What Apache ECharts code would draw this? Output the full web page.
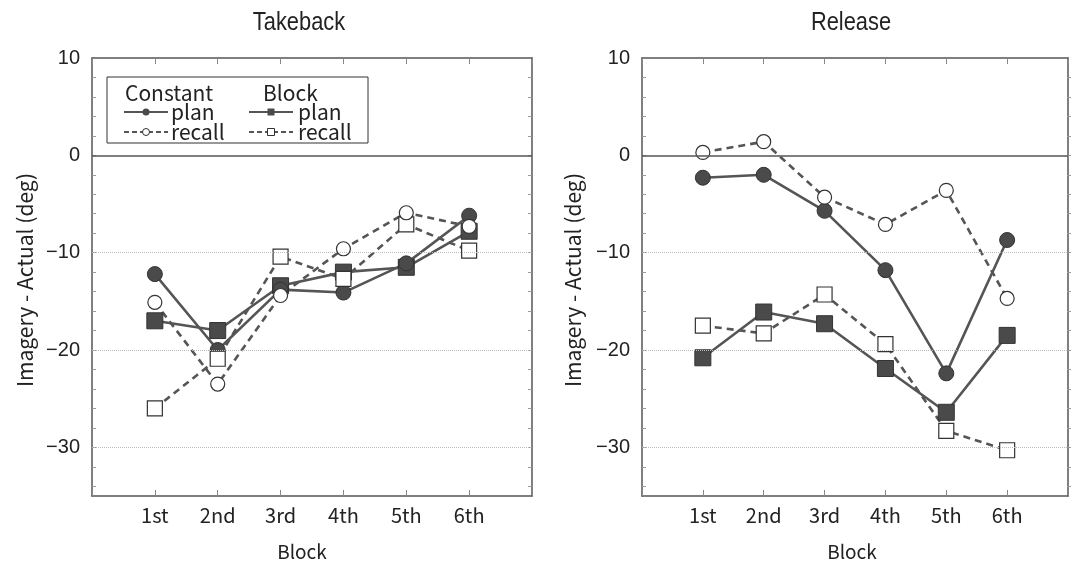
<!DOCTYPE html>
<html>
<head>
<meta charset="utf-8">
<script src="https://cdn.jsdelivr.net/npm/echarts@6/dist/echarts.min.js"></script>
<style>
html, body { margin: 0; padding: 0; background: #fff; }
#chart { width: 1071px; height: 566px; }
</style>
</head>
<body>
<div id="chart"></div>
<script>
// categories
var blockLabels = ['1st', '2nd', '3rd', '4th', '5th', '6th'];
// Takeback panel
var takebackConstantPlan   = [-12.2, -20.0, -13.8, -14.1, -11.1, -6.2];
var takebackConstantRecall = [-15.1, -23.5, -14.4, -9.6, -5.9, -7.3];
var takebackBlockPlan      = [-17.0, -18.0, -13.4, -12.0, -11.5, -7.8];
var takebackBlockRecall    = [-26.0, -20.9, -10.4, -12.7, -7.1, -9.8];
// Release panel
var releaseConstantPlan    = [-2.3, -2.0, -5.7, -11.8, -22.4, -8.7];
var releaseConstantRecall  = [0.3, 1.4, -4.3, -7.1, -3.6, -14.7];
var releaseBlockPlan       = [-20.8, -16.1, -17.3, -21.9, -26.4, -18.5];
var releaseBlockRecall     = [-17.5, -18.3, -14.3, -19.4, -28.3, -30.3];
// y reference lines
var gridValues = [-10, -20, -30];
var zeroValue = 0;

var NARROW = "'Liberation Sans Narrow', 'Arial Narrow', 'Liberation Sans', sans-serif";
var GOTHIC = "'Noto Sans CJK JP', 'Noto Sans', sans-serif";
var INK = '#555';

var myChart = echarts.init(document.getElementById('chart'));

function mainGrid(left) { return {left: left, top: 58, width: 440, height: 438}; }
function minorGrid(left) { return {left: left, top: 58 + 2 * 438 / 45, width: 440, height: 438 * 42 / 45}; }

function xBottom(gi) {
	return {
		type: 'value', gridIndex: gi, position: 'bottom', min: 0, max: 7, interval: 1,
		axisLine: {show: true, onZero: false, lineStyle: {color: INK, width: 1.5}},
		axisTick: {show: true, inside: true, length: 6, lineStyle: {color: '#888'}},
		splitLine: {show: false},
		axisLabel: {
			margin: 9, color: '#222', fontSize: 20, fontFamily: GOTHIC,
			formatter: function (v) { return blockLabels[v - 1] || ''; }
		}
	};
}
function xTop(gi) {
	return {
		type: 'value', gridIndex: gi, position: 'top', min: 0, max: 7, interval: 1,
		axisLine: {show: true, onZero: false, lineStyle: {color: INK, width: 1.5}},
		axisTick: {show: true, inside: true, length: 6, lineStyle: {color: '#888'}},
		splitLine: {show: false}, axisLabel: {show: false}
	};
}
function xHidden(gi) { return {type: 'value', gridIndex: gi, min: 0, max: 7, show: false}; }

function yMain(gi) {
	return {
		type: 'value', gridIndex: gi, position: 'left', min: -35, max: 10, interval: 5,
		axisLine: {show: true, onZero: false, lineStyle: {color: INK, width: 1.5}},
		axisTick: {show: false}, splitLine: {show: false},
		axisLabel: {
			margin: 12, color: '#222', fontSize: 20, fontFamily: NARROW,
			formatter: function (v) {
				if (v % 10 !== 0) return '';
				return v < 0 ? '\u2212' + (-v) : String(v);
			}
		}
	};
}
function yRightLine(gi) {
	return {
		type: 'value', gridIndex: gi, position: 'right', min: -35, max: 10, interval: 5,
		axisLine: {show: true, onZero: false, lineStyle: {color: INK, width: 1.5}},
		axisTick: {show: false}, axisLabel: {show: false}, splitLine: {show: false}
	};
}
function yMinor(gi, pos) {
	return {
		type: 'value', gridIndex: gi, position: pos, min: -34, max: 8, interval: 2,
		axisLine: {show: false}, axisLabel: {show: false}, splitLine: {show: false},
		axisTick: {show: true, inside: true, length: 4, lineStyle: {color: '#999'}}
	};
}

function refSeries(xi, yi) {
	var data = [{yAxis: zeroValue, lineStyle: {type: 'solid', color: INK, width: 1.5}}];
	gridValues.forEach(function (v) {
		data.push({yAxis: v, lineStyle: {type: 'dotted', color: '#bbb', width: 1}});
	});
	return {
		type: 'line', xAxisIndex: xi, yAxisIndex: yi, data: [], silent: true,
		markLine: {silent: true, symbol: ['none', 'none'], label: {show: false}, animation: false, data: data}
	};
}

function dataSeries(xi, yi, values, shape, filled, dashed) {
	return {
		type: 'line', xAxisIndex: xi, yAxisIndex: yi,
		data: values.map(function (v, i) { return [i + 1, v]; }),
		symbol: shape === 'circle' ? 'circle' : 'rect',
		symbolSize: shape === 'circle' ? (filled ? 15 : 14) : (filled ? 16 : 15),
		showAllSymbol: true,
		lineStyle: {color: INK, width: 2.6, type: dashed ? [7, 5] : 'solid'},
		itemStyle: filled
			? {color: '#4a4a4a', borderColor: '#333', borderWidth: 1}
			: {color: '#fff', borderColor: '#333', borderWidth: 1.2},
		animation: false
	};
}

function panelSeries(xi, yi, cPlan, cRecall, bPlan, bRecall) {
	return [
		refSeries(xi, yi),
		dataSeries(xi, yi, bPlan, 'square', true, false),
		dataSeries(xi, yi, cPlan, 'circle', true, false),
		dataSeries(xi, yi, bRecall, 'square', false, true),
		dataSeries(xi, yi, cRecall, 'circle', false, true)
	];
}

// legend (drawn by hand, as in the original)
var LX = 107, LY = 77;
var legendGraphic = [
	{type: 'rect', shape: {x: LX, y: LY, width: 261, height: 66}, style: {fill: '#fff', stroke: '#333', lineWidth: 1}, z: 100},
	{type: 'text', x: 125, y: 93, style: {text: 'Constant', font: '21px ' + GOTHIC, fill: '#222', verticalAlign: 'middle'}, z: 101},
	{type: 'text', x: 263, y: 93, style: {text: 'Block', font: '21px ' + GOTHIC, fill: '#222', verticalAlign: 'middle'}, z: 101},
	{type: 'line', shape: {x1: 124, y1: 112, x2: 168, y2: 112}, style: {stroke: INK, lineWidth: 2}, z: 101},
	{type: 'circle', shape: {cx: 146, cy: 112, r: 3.5}, style: {fill: '#4a4a4a'}, z: 102},
	{type: 'text', x: 171, y: 112, style: {text: 'plan', font: '21px ' + GOTHIC, fill: '#222', verticalAlign: 'middle'}, z: 101},
	{type: 'line', shape: {x1: 249, y1: 112, x2: 293, y2: 112}, style: {stroke: INK, lineWidth: 2}, z: 101},
	{type: 'rect', shape: {x: 267.5, y: 108.5, width: 7, height: 7}, style: {fill: '#4a4a4a'}, z: 102},
	{type: 'text', x: 298, y: 112, style: {text: 'plan', font: '21px ' + GOTHIC, fill: '#222', verticalAlign: 'middle'}, z: 101},
	{type: 'line', shape: {x1: 124, y1: 132, x2: 168, y2: 132}, style: {stroke: INK, lineWidth: 2, lineDash: [5, 3]}, z: 101},
	{type: 'circle', shape: {cx: 146, cy: 132, r: 3.5}, style: {fill: '#fff', stroke: '#333', lineWidth: 1}, z: 102},
	{type: 'text', x: 171, y: 132, style: {text: 'recall', font: '21px ' + GOTHIC, fill: '#222', verticalAlign: 'middle'}, z: 101},
	{type: 'line', shape: {x1: 249, y1: 132, x2: 293, y2: 132}, style: {stroke: INK, lineWidth: 2, lineDash: [5, 3]}, z: 101},
	{type: 'rect', shape: {x: 267.5, y: 128.5, width: 7, height: 7}, style: {fill: '#fff', stroke: '#333', lineWidth: 1}, z: 102},
	{type: 'text', x: 298, y: 132, style: {text: 'recall', font: '21px ' + GOTHIC, fill: '#222', verticalAlign: 'middle'}, z: 101}
];

// titles and axis names
var textGraphic = [
	{type: 'text', x: 299, y: 23, scaleX: 0.84, style: {text: 'Takeback', font: '26px ' + NARROW, fill: '#222', align: 'center', verticalAlign: 'middle'}},
	{type: 'text', x: 851, y: 23, scaleX: 0.84, style: {text: 'Release', font: '26px ' + NARROW, fill: '#222', align: 'center', verticalAlign: 'middle'}},
	{type: 'text', x: 302, y: 552, style: {text: 'Block', font: '19px ' + GOTHIC, fill: '#222', align: 'center', verticalAlign: 'middle'}},
	{type: 'text', x: 852, y: 552, style: {text: 'Block', font: '19px ' + GOTHIC, fill: '#222', align: 'center', verticalAlign: 'middle'}},
	{type: 'text', x: 25, y: 280, rotation: Math.PI / 2, style: {text: 'Imagery - Actual (deg)', font: '21px ' + GOTHIC, fill: '#222', align: 'center', verticalAlign: 'middle'}},
	{type: 'text', x: 573, y: 280, rotation: Math.PI / 2, style: {text: 'Imagery - Actual (deg)', font: '21px ' + GOTHIC, fill: '#222', align: 'center', verticalAlign: 'middle'}}
];

myChart.setOption({
	backgroundColor: '#fff',
	animation: false,
	grid: [mainGrid(92), minorGrid(92), mainGrid(642), minorGrid(642)],
	xAxis: [xBottom(0), xTop(0), xHidden(1), xBottom(2), xTop(2), xHidden(3)],
	yAxis: [
		yMain(0), yRightLine(0), yMinor(1, 'left'), yMinor(1, 'right'),
		yMain(2), yRightLine(2), yMinor(3, 'left'), yMinor(3, 'right')
	],
	series: [].concat(
		panelSeries(0, 0, takebackConstantPlan, takebackConstantRecall, takebackBlockPlan, takebackBlockRecall),
		panelSeries(3, 4, releaseConstantPlan, releaseConstantRecall, releaseBlockPlan, releaseBlockRecall)
	),
	graphic: textGraphic.concat(legendGraphic)
});
</script>
</body>
</html>
